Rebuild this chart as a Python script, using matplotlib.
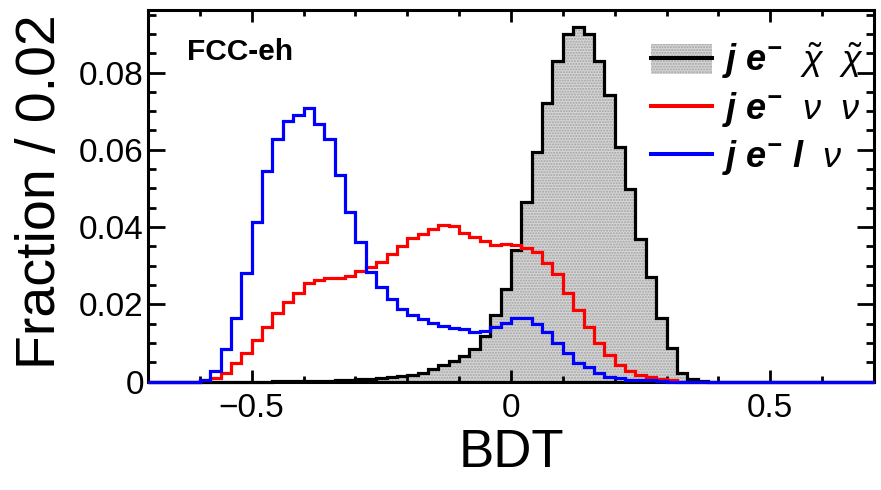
import numpy as np
import matplotlib
matplotlib.use("Agg")
import matplotlib.pyplot as plt
from matplotlib.patches import Patch
from matplotlib.lines import Line2D
from matplotlib.legend_handler import HandlerTuple
from matplotlib.ticker import MultipleLocator, FixedLocator, FuncFormatter

plt.rcParams["font.family"] = ["Liberation Sans", "DejaVu Sans"]
plt.rcParams["mathtext.fontset"] = "custom"
plt.rcParams["mathtext.rm"] = "Liberation Sans"
plt.rcParams["mathtext.it"] = "Liberation Sans:italic"
plt.rcParams["mathtext.bf"] = "Liberation Sans:bold:italic"

# BDT output range and binning (70 bins of width 0.02)
bdt_range = (-0.7, 0.7)
n_bins = 70

# Normalised BDT distributions, one value per bin
signal_chichi = [
    0, 0, 0, 0, 0, 0, 0, 0, 0, 0,
    0, 0, 0.0001, 0.0001, 0.0001, 0.0001, 0.0001, 0.0002, 0.0003, 0.0004,
    0.0006, 0.0007, 0.0009, 0.0011, 0.0014, 0.0018, 0.0023, 0.0032, 0.0042, 0.0053,
    0.0066, 0.0084, 0.0118, 0.0172, 0.0239, 0.0341, 0.0465, 0.0594, 0.0722, 0.0831,
    0.0900, 0.0918, 0.0900, 0.0831, 0.0741, 0.0608, 0.0498, 0.0369, 0.0271, 0.0164,
    0.0086, 0.0023, 0.0006, 0.0002, 0, 0, 0, 0, 0, 0,
    0, 0, 0, 0, 0, 0, 0, 0, 0, 0,
]
bkg_nunu = [
    0, 0, 0, 0, 0, 0.0003, 0.0010, 0.0023, 0.0047, 0.0075,
    0.0107, 0.0142, 0.0178, 0.0205, 0.0230, 0.0256, 0.0263, 0.0267, 0.0269, 0.0272,
    0.0285, 0.0296, 0.0310, 0.0330, 0.0351, 0.0372, 0.0383, 0.0396, 0.0405, 0.0402,
    0.0385, 0.0374, 0.0364, 0.0353, 0.0357, 0.0354, 0.0347, 0.0336, 0.0306, 0.0278,
    0.0230, 0.0185, 0.0140, 0.0100, 0.0069, 0.0044, 0.0027, 0.0017, 0.0011, 0.0006,
    0.0003, 0, 0, 0, 0, 0, 0, 0, 0, 0,
    0, 0, 0, 0, 0, 0, 0, 0, 0, 0,
]
bkg_lnu = [
    0, 0, 0, 0, 0, 0.0003, 0.0027, 0.0083, 0.0165, 0.0280,
    0.0412, 0.0546, 0.0627, 0.0674, 0.0690, 0.0707, 0.0668, 0.0627, 0.0536, 0.0440,
    0.0362, 0.0283, 0.0245, 0.0213, 0.0187, 0.0172, 0.0161, 0.0151, 0.0144, 0.0139,
    0.0135, 0.0128, 0.0131, 0.0142, 0.0152, 0.0164, 0.0164, 0.0149, 0.0129, 0.0100,
    0.0075, 0.0049, 0.0038, 0.0023, 0.0011, 0.0008, 0.0005, 0.0004, 0.0003, 0.0002,
    0, 0, 0, 0, 0, 0, 0, 0, 0, 0,
    0, 0, 0, 0, 0, 0, 0, 0, 0, 0,
]

labels = [
    r"$\mathbf{j\ e}^{\mathbf{-}}\ \ \tilde{\chi}\ \ \tilde{\chi}$",
    r"$\mathbf{j\ e}^{\mathbf{-}}\ \ \nu\ \ \nu$",
    r"$\mathbf{j\ e}^{\mathbf{-}}\ \mathbf{l}\ \ \nu$",
]
x_ticks = [-0.5, 0.0, 0.5]
y_ticks = [0, 0.02, 0.04, 0.06, 0.08]

edges = np.linspace(bdt_range[0], bdt_range[1], n_bins + 1)

fig = plt.figure(figsize=(8.81, 4.90), dpi=100)
ax = fig.add_axes([0.168, 0.2214, 0.824, 0.7582])

lw = 2.3
fill_grey = "#d6d6d6"
hatch_grey = "#a2a2a2"

ax.stairs(signal_chichi, edges, baseline=0, fill=True, facecolor=fill_grey,
          edgecolor=hatch_grey, hatch="......", linewidth=0, zorder=1)
ax.stairs(signal_chichi, edges, baseline=0, color="black", linewidth=lw,
          zorder=3.0, clip_on=False)
ax.stairs(bkg_nunu, edges, baseline=0, color="red", linewidth=lw,
          zorder=3.1, clip_on=False)
ax.stairs(bkg_lnu, edges, baseline=0, color="blue", linewidth=lw,
          zorder=3.2, clip_on=False)

ax.set_xlim(*bdt_range)
ax.set_ylim(0, 0.0962)

ax.xaxis.set_major_locator(FixedLocator(x_ticks))
ax.xaxis.set_minor_locator(MultipleLocator(0.1))
ax.yaxis.set_major_locator(FixedLocator(y_ticks))
ax.yaxis.set_minor_locator(MultipleLocator(0.005))


def fmt(v, _pos):
    s = "{:g}".format(round(v, 6))
    return s.replace("-", "\u2212")


ax.xaxis.set_major_formatter(FuncFormatter(fmt))
ax.yaxis.set_major_formatter(FuncFormatter(fmt))

ax.tick_params(which="both", direction="in", top=True, right=True, width=2.0,
               labelsize=24)
ax.tick_params(axis="x", which="major", length=8.5, pad=8)
ax.tick_params(axis="x", which="minor", length=4)
ax.tick_params(axis="y", which="major", length=12.5, pad=3)
ax.tick_params(axis="y", which="minor", length=6)
for sp in ax.spines.values():
    sp.set_linewidth(2.2)
    sp.set_zorder(2.5)

ax.set_xlabel("BDT", fontsize=38)
ax.xaxis.set_label_coords(0.5, -0.125)
ax.set_ylabel("Fraction / 0.02", fontsize=40, ha="right", va="center")
ax.yaxis.set_label_coords(-0.147, 0.987)

ax.text(0.0537, 0.887, "FCC-eh", transform=ax.transAxes, fontsize=21.5,
        fontweight="bold", ha="left", va="center")

handles = [
    (Patch(facecolor=fill_grey, edgecolor=hatch_grey, hatch="......", linewidth=0),
     Line2D([], [], color="black", linewidth=lw + 0.6)),
    Line2D([], [], color="red", linewidth=lw + 0.6),
    Line2D([], [], color="blue", linewidth=lw + 0.6),
]
ax.legend(handles, labels, loc="upper left", bbox_to_anchor=(0.693, 0.917),
          frameon=False, fontsize=26, borderpad=0, borderaxespad=0,
          handlelength=1.69, handleheight=0.92, handletextpad=0.28,
          labelspacing=0.25, handler_map={tuple: HandlerTuple(ndivide=1)})

fig.savefig("out.png", dpi=100)
